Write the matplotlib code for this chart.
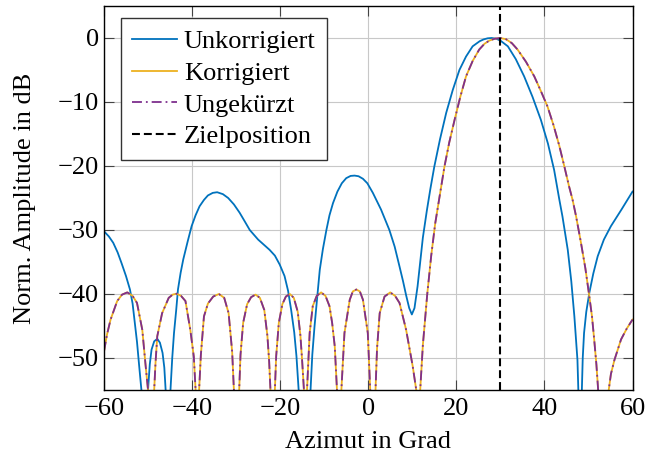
import matplotlib
matplotlib.use("Agg")
import matplotlib.pyplot as plt

plt.rcParams['font.family'] = ['Liberation Serif', 'DejaVu Serif']
plt.rcParams['font.size'] = 19

# Unkorrigiert (blau)
az_unkorr = [-60.0, -58.9, -57.9, -56.9, -56.0, -55.0, -54.1, -53.5, -53.0, -52.5, -52.0, -51.5, -50.75, -50.0,
             -49.6, -49.2, -48.6, -47.9, -47.3, -46.7, -46.3, -46.0, -45.45, -44.9, -44.5, -44.1, -43.6, -43.2,
             -42.6, -42.0, -41.0, -40.1, -39.2, -38.3, -37.3, -36.4, -35.3, -34.3, -33.0, -31.8, -30.5, -29.2,
             -28.0, -26.9, -25.0, -23.7, -22.4, -21.2, -20.1, -19.0, -18.2, -17.5, -16.8, -16.3, -15.8, -14.45,
             -13.1, -12.7, -12.2, -11.6, -11.0, -10.3, -9.5, -8.8, -8.0, -7.0, -6.0, -5.0, -4.0, -3.1, -2.2,
             -1.2, -0.2, 1.05, 2.9, 4.8, 6.0, 7.1, 7.9, 8.6, 9.3, 9.9, 10.5, 11.2, 11.8, 12.4, 13.3, 14.1,
             15.0, 16.3, 17.7, 19.2, 20.7, 22.2, 23.7, 25.3, 26.2, 27.1, 28.0, 29.0, 30.0, 31.7, 33.5, 35.4,
             37.3, 39.2, 40.8, 42.2, 43.4, 44.1, 45.3, 46.1, 46.8, 47.5, 47.7, 48.1, 48.5, 48.7, 49.0, 49.5,
             50.2, 51.1, 52.1, 53.5, 55.1, 57.5, 60.0]
db_unkorr = [-30.2, -31.0, -32.0, -33.5, -35.2, -37.2, -39.3, -41.5, -44.5, -47.5, -51.3, -55.0, -70.0, -55.0,
             -51.0, -48.7, -47.4, -47.0, -47.6, -49.2, -51.5, -55.0, -70.0, -55.0, -50.0, -46.1, -42.5, -39.3,
             -36.7, -34.6, -31.8, -29.4, -27.7, -26.3, -25.3, -24.6, -24.2, -24.1, -24.4, -25.0, -26.0, -27.3,
             -28.7, -30.0, -31.5, -32.3, -33.1, -34.0, -35.4, -37.2, -39.5, -42.5, -46.0, -49.7, -55.0, -70.0,
             -55.0, -49.5, -45.1, -40.6, -36.2, -33.0, -30.0, -27.7, -25.8, -24.0, -22.7, -21.9, -21.55, -21.5, -21.6,
             -22.0, -22.7, -24.2, -26.8, -30.0, -32.6, -35.7, -38.0, -40.2, -42.2, -43.2, -42.2, -38.8, -35.0,
             -31.2, -27.0, -23.6, -20.1, -15.8, -11.7, -8.1, -5.0, -2.9, -1.3, -0.5, -0.22, -0.05, 0.0, -0.1,
             -0.4, -1.3, -3.3, -6.0, -9.2, -12.8, -16.5, -20.6, -25.3, -27.9, -33.1, -38.0, -43.5, -50.3, -55.0,
             -70.0, -55.0, -50.0, -46.1, -42.8, -39.8, -36.8, -34.1, -31.5, -29.4, -26.8, -24.0]

# Korrigiert (gelb) und Ungekürzt (lila), deckungsgleich
az_korr = [-60.0, -59.3, -58.5, -57.0, -55.9, -54.7, -53.5, -52.5, -51.3, -50.6, -50.0, -49.3,
           -48.6, -48.3, -47.9, -46.8, -45.3, -44.4, -43.5, -42.5, -41.5, -40.4, -39.6, -39.2, -38.8,
           -38.4, -38.0, -37.3, -36.4, -35.2, -33.9, -32.7, -31.7, -30.9, -30.5, -29.9,
           -29.3, -29.0, -28.4, -27.5, -26.6, -25.6, -24.6, -23.6, -22.9, -22.5, -22.2, -21.7,
           -21.2, -20.9, -20.3, -19.5, -18.7, -17.8, -16.9, -16.0, -15.4, -15.0, -14.6, -14.25,
           -13.9, -13.3, -12.6, -11.7, -10.7, -9.7, -8.8, -8.2, -7.6, -7.1, -6.6,
           -6.1, -5.4, -4.2, -3.5, -2.7, -1.9, -1.2, -0.1, 0.45, 1.05,
           1.65, 2.0, 2.6, 3.7, 5.0, 6.1, 7.1, 8.6, 10.1, 10.9, 11.35,
           11.8, 12.4, 13.4, 14.3, 15.2, 16.2, 17.3, 18.4, 19.6, 20.9, 22.2, 23.7, 25.2, 26.4, 27.5, 28.8,
           30.0, 31.3, 32.6, 33.9, 35.8, 37.7, 39.2, 40.7, 42.1, 43.4, 44.5, 45.6, 46.4, 47.2, 48.3, 49.3,
           50.2, 50.8, 51.3, 51.8, 52.2, 53.4, 54.6, 55.1, 55.9, 57.4, 58.7, 60.0]
db_korr = [-49.0, -46.3, -44.0, -41.1, -40.1, -39.75, -40.3, -41.4, -45.6, -50.8, -55.0, -70.0,
           -55.0, -50.8, -46.6, -43.0, -40.6, -40.1, -39.95, -40.3, -41.1, -45.6, -49.8, -55.0, -70.0,
           -55.0, -49.5, -43.5, -41.5, -40.4, -40.0, -40.6, -43.0, -49.0, -55.0, -70.0,
           -55.0, -49.5, -44.5, -41.6, -40.5, -40.1, -40.6, -42.5, -46.5, -50.5, -55.0, -70.0,
           -55.0, -49.7, -44.5, -41.6, -40.4, -40.0, -40.6, -42.8, -46.5, -50.5, -55.0, -70.0,
           -55.0, -46.1, -41.9, -40.3, -39.75, -40.3, -41.9, -44.5, -48.2, -55.0, -70.0,
           -55.0, -46.1, -40.9, -39.6, -39.3, -39.6, -40.9, -46.1, -55.0, -70.0,
           -55.0, -48.5, -43.0, -40.4, -39.75, -40.3, -41.4, -45.6, -51.3, -55.0, -70.0,
           -55.0, -48.0, -40.0, -34.0, -29.0, -24.8, -20.1, -16.3, -12.8, -9.2, -6.0, -3.6, -1.8, -0.9, -0.4, -0.1,
           0.0, -0.2, -0.8, -1.8, -3.7, -6.0, -8.3, -10.7, -13.7, -16.9, -20.0, -23.2, -25.3, -27.9, -32.0, -36.0,
           -40.4, -43.5, -47.1, -51.0, -55.0, -70.0, -55.0, -52.5, -50.3, -47.1, -45.4, -44.0]
az_ungek = az_korr
db_ungek = db_korr

ziel = 30

fig = plt.figure(figsize=(6.47, 4.58), dpi=100)
ax = fig.add_axes([0.1607, 0.1485, 0.8169, 0.8384])

ax.plot(az_unkorr, db_unkorr, color='#0072BD', lw=1.3, solid_joinstyle='round', label='Unkorrigiert')
ax.plot(az_korr, db_korr, color='#EDB120', lw=1.3, solid_joinstyle='round', label='Korrigiert')
ax.plot(az_ungek, db_ungek, color='#7E2F8E', lw=1.3, linestyle=(0, (5.5, 2.2, 1, 2.2)), label='Ungekürzt')
ax.axvline(ziel, color='black', lw=1.5, linestyle=(0, (3.8, 1.9)), label='Zielposition')

ax.set_xlim(-60, 60)
ax.set_ylim(-55, 5)
ax.set_xticks(range(-60, 61, 20))
ax.set_yticks(range(-50, 1, 10))
ax.grid(True, color='#c8c8c8', lw=0.8)
ax.set_axisbelow(True)
ax.tick_params(direction='in', length=7, width=0.8, color='#444444', top=True, right=True, labelsize=19)
ax.tick_params(axis='x', pad=5.5)
for s in ax.spines.values():
    s.set_linewidth(1.0)

ax.set_xlabel('Azimut in Grad', fontsize=19, labelpad=8.5)
ax.set_ylabel('Norm. Amplitude in dB', fontsize=19, labelpad=15.5)

leg = ax.legend(loc='upper left', bbox_to_anchor=(0.0316, 0.968), borderaxespad=0, fontsize=19,
                fancybox=False, framealpha=1, edgecolor='#333333', handlelength=1.7,
                labelspacing=0.31, handletextpad=0.25, borderpad=0.44)
leg.get_frame().set_linewidth(1.0)

fig.savefig('out.png', dpi=100)
